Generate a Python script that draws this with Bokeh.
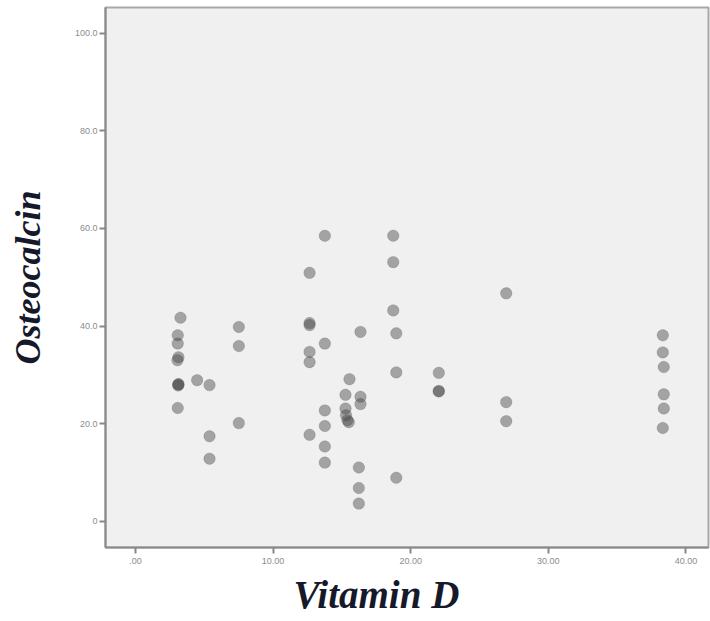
from bokeh.plotting import figure
from bokeh.models import FixedTicker, Range1d, Title
from bokeh.embed import file_html
from bokeh.resources import INLINE

# ---- data ----
vitamin_d = [3.27, 3.07, 3.07, 3.12, 3.05, 3.12, 3.12, 3.10, 4.48, 5.38, 3.07, 7.51, 7.51, 7.51, 5.38, 5.38,
             13.76, 18.73, 18.73, 12.65, 18.73, 12.65, 12.65, 16.35, 18.95, 13.76,
             12.65, 12.65, 18.95, 15.55, 15.26, 16.35, 16.35, 13.76, 15.26, 15.30,
             15.40, 15.50, 13.76, 12.65, 13.76, 13.76, 16.23, 18.95, 16.23, 16.23,
             22.04, 22.04, 22.04, 26.94, 26.94, 26.94,
             38.32, 38.32, 38.39, 38.39, 38.39, 38.32]
osteocalcin = [41.7, 38.1, 36.4, 33.6, 33.0, 28.1, 28.0, 27.8, 28.9, 27.9, 23.2, 39.8, 35.9, 20.1, 17.4, 12.8,
               58.5, 58.5, 53.1, 50.9, 43.2, 40.6, 40.2, 38.8, 38.5, 36.4,
               34.7, 32.6, 30.5, 29.1, 25.9, 25.5, 24.0, 22.7, 23.1, 21.7,
               20.7, 20.3, 19.5, 17.7, 15.3, 12.0, 11.0, 8.9, 6.8, 3.6,
               30.4, 26.7, 26.6, 46.7, 24.4, 20.5,
               38.1, 34.6, 31.6, 26.0, 23.1, 19.1]

x_ticks = [0, 10, 20, 30, 40]
x_tick_labels = [".00", "10.00", "20.00", "30.00", "40.00"]
y_ticks = [0, 20, 40, 60, 80, 100]
y_tick_labels = ["0", "20.0", "40.0", "60.0", "80.0", "100.0"]

p = figure(width=710, height=621, output_backend="svg", toolbar_location=None,
           title=None,
           x_range=Range1d(-2.18, 41.64), y_range=Range1d(-5.4, 105.3),
           min_border_left=105, min_border_right=2, min_border_top=7, min_border_bottom=74)

p.background_fill_color = "#f0f0f0"
p.border_fill_color = "white"
p.outline_line_color = "#a8a8a8"
p.outline_line_width = 2
p.xgrid.visible = False
p.ygrid.visible = False

p.scatter(vitamin_d, osteocalcin, size=11.5, marker="circle",
          fill_color="#444444", fill_alpha=0.45, line_color="#444444", line_alpha=0.2, line_width=1)

for ax, ticks, labels in ((p.xaxis[0], x_ticks, x_tick_labels), (p.yaxis[0], y_ticks, y_tick_labels)):
    ax.ticker = FixedTicker(ticks=ticks)
    ax.major_label_overrides = {t: l for t, l in zip(ticks, labels)}
    ax.minor_tick_line_color = None
    ax.major_tick_in = 0
    ax.major_tick_out = 6
    ax.major_tick_line_color = "#888888"
    ax.major_tick_line_width = 2
    ax.axis_line_color = "#8a8a8a"
    ax.axis_line_width = 2
    ax.major_label_text_font = "Liberation Sans"
    ax.major_label_text_font_size = "9px"
    ax.major_label_text_color = "#8c8c8c"

p.xaxis.major_label_standoff = 4
p.yaxis.major_label_standoff = 2

p.yaxis.axis_label = "Osteocalcin"
p.yaxis.axis_label_text_font = "Liberation Serif"
p.yaxis.axis_label_text_font_style = "bold italic"
p.yaxis.axis_label_text_font_size = "36px"
p.yaxis.axis_label_text_color = "#15192a"
p.yaxis.axis_label_standoff = 24

p.add_layout(Title(text="Vitamin D", align="left", offset=188, standoff=8,
                   text_font="Liberation Serif", text_font_style="bold italic",
                   text_font_size="39px", text_color="#15192a"), "below")

open("out.html", "w").write(file_html(p, INLINE))
